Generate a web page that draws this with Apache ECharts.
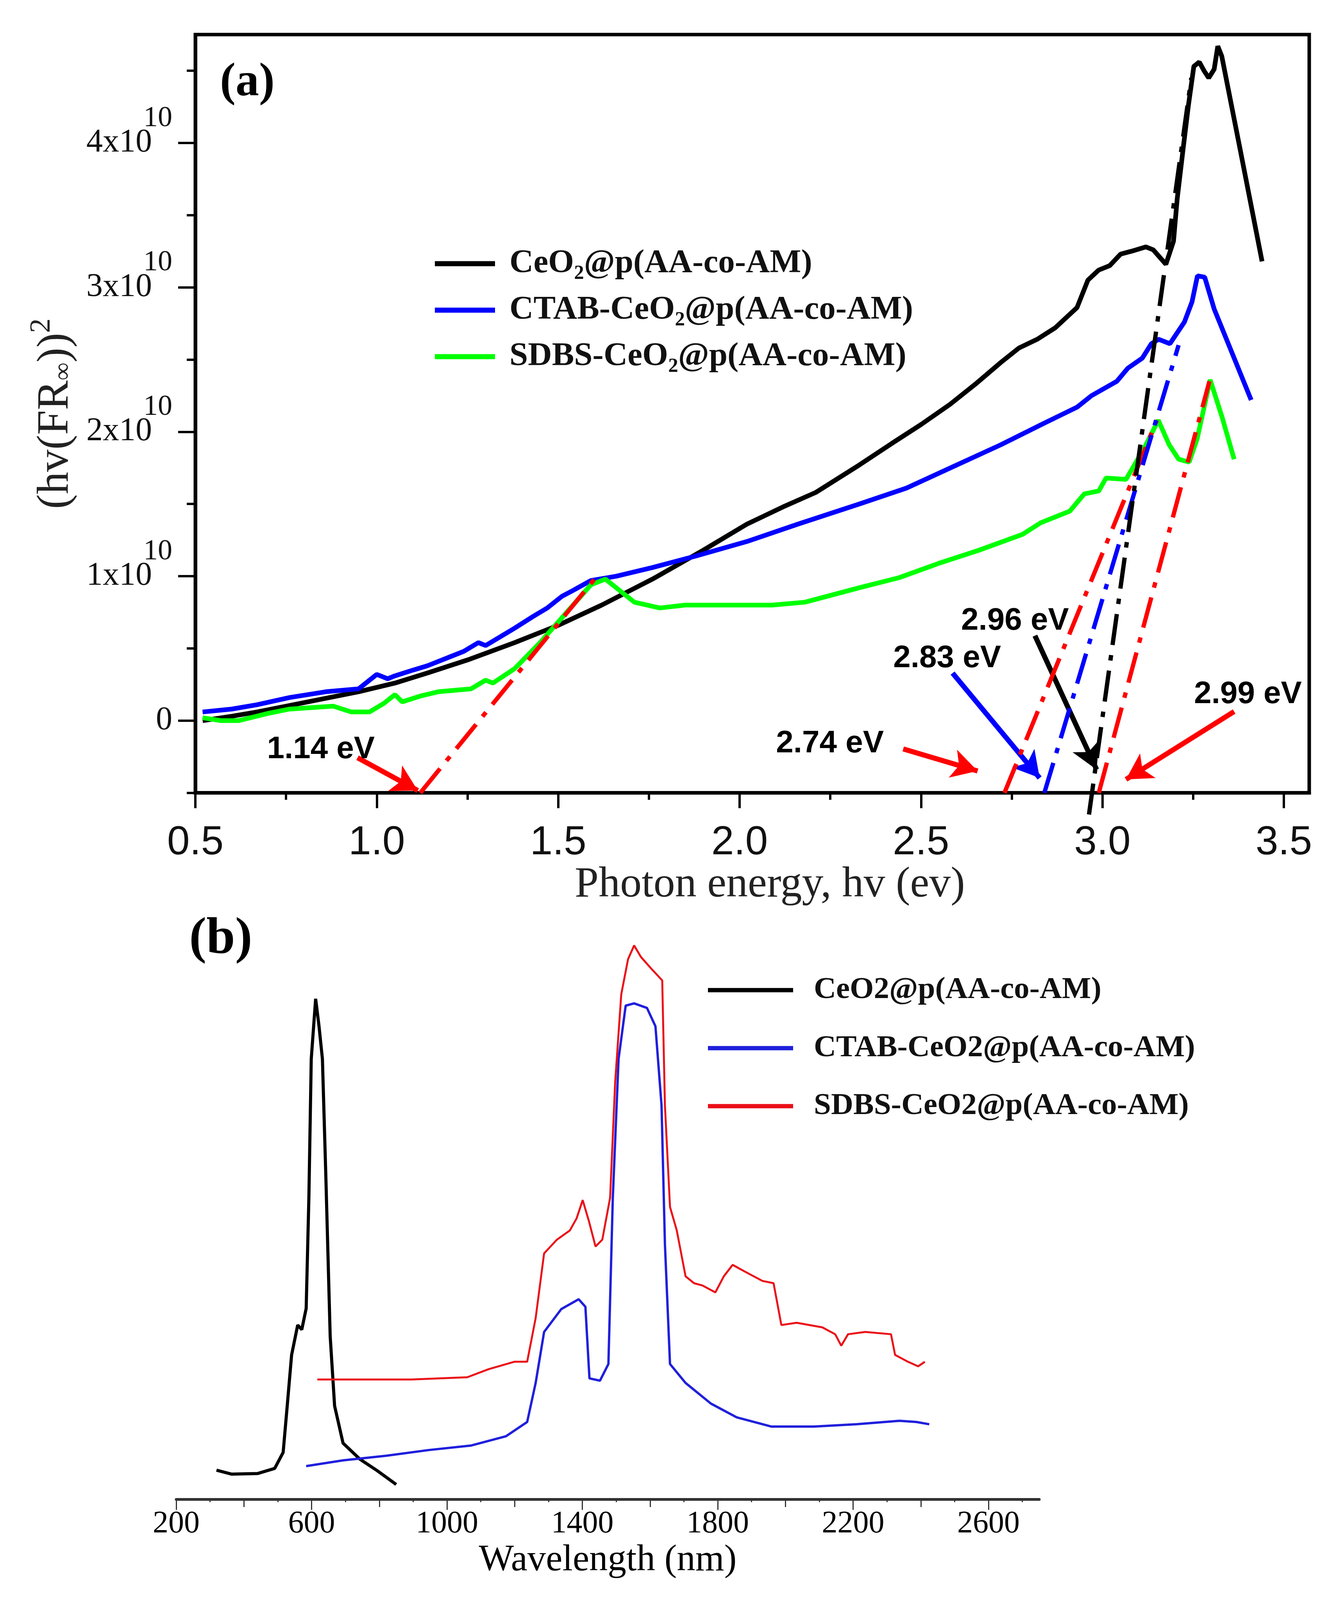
<!DOCTYPE html>
<html>
<head>
<meta charset="utf-8">
<script src="https://cdn.jsdelivr.net/npm/echarts@6/dist/echarts.min.js"></script>
<style>
html, body { margin: 0; padding: 0; background: #fff; overflow: hidden; }
</style>
</head>
<body>
<div id="chart"></div>
<script>
// ---- panel (a): (hv(FR))^2 vs photon energy, y in units of 1e10 ----
const energyCeO2 = [0.52,0.60,0.67,0.75,0.85,0.95,1.05,1.14,1.25,1.38,1.50,1.62,1.76,1.90,2.02,2.12,2.21,2.33,2.42,2.50,2.58,2.65,2.72,2.77,2.82,2.87,2.93,2.96,2.99,3.02,3.05,3.08,3.12,3.14,3.175,3.196,3.206,3.222,3.237,3.252,3.267,3.28,3.293,3.308,3.318,3.329,3.38,3.44];
const tauCeO2 = [0.00,0.03,0.06,0.10,0.15,0.20,0.26,0.33,0.42,0.54,0.66,0.80,0.98,1.18,1.36,1.48,1.58,1.77,1.92,2.05,2.19,2.33,2.48,2.58,2.64,2.72,2.86,3.05,3.12,3.15,3.23,3.25,3.28,3.26,3.16,3.32,3.61,3.95,4.26,4.53,4.56,4.50,4.45,4.51,4.67,4.60,3.95,3.18];

const energyCTAB = [0.52,0.60,0.67,0.76,0.86,0.95,0.98,1.00,1.03,1.05,1.10,1.14,1.20,1.24,1.28,1.30,1.34,1.38,1.43,1.47,1.51,1.54,1.59,1.66,1.76,1.88,2.02,2.16,2.33,2.46,2.59,2.72,2.84,2.93,2.97,3.04,3.07,3.11,3.135,3.155,3.186,3.226,3.247,3.262,3.282,3.308,3.41];
const tauCTAB = [0.06,0.08,0.11,0.16,0.20,0.22,0.28,0.32,0.29,0.31,0.35,0.38,0.44,0.48,0.54,0.52,0.58,0.64,0.72,0.78,0.86,0.90,0.97,1.00,1.06,1.14,1.24,1.36,1.50,1.61,1.76,1.91,2.06,2.17,2.25,2.35,2.44,2.51,2.61,2.64,2.61,2.76,2.90,3.08,3.07,2.85,2.22];

const energySDBS = [0.52,0.57,0.62,0.70,0.76,0.82,0.88,0.93,0.98,1.02,1.05,1.07,1.12,1.17,1.26,1.30,1.32,1.38,1.45,1.52,1.59,1.63,1.66,1.71,1.78,1.85,1.97,2.09,2.18,2.33,2.44,2.55,2.66,2.78,2.83,2.91,2.95,2.99,3.01,3.065,3.116,3.154,3.184,3.21,3.239,3.261,3.297,3.33,3.363];
const tauSDBS = [0.02,0.00,0.00,0.05,0.08,0.09,0.10,0.06,0.06,0.12,0.18,0.13,0.17,0.20,0.22,0.28,0.26,0.36,0.54,0.74,0.94,0.98,0.92,0.82,0.78,0.80,0.80,0.80,0.82,0.92,0.99,1.09,1.18,1.29,1.37,1.45,1.57,1.59,1.68,1.67,1.89,2.08,1.91,1.81,1.79,1.95,2.36,2.10,1.81];

// tangent (extrapolation) lines: [x0, x1], [y0, y1]
const tangentX = [[1.12, 1.60], [2.73, 3.15], [2.84, 3.21], [2.963, 3.245], [2.99, 3.295]];
const tangentY = [[-0.5, 0.98], [-0.5, 2.08], [-0.5, 2.60], [-0.65, 4.45], [-0.5, 2.35]];
const tangentColor = ['#ff0000', '#ff0000', '#0000ff', '#000000', '#ff0000'];

// band-gap annotations
const gapLabels = ['1.14 eV', '2.74 eV', '2.83 eV', '2.96 eV', '2.99 eV'];
const gapLabelAt = [[0.846, -0.20], [2.249, -0.16], [2.572, 0.43], [2.759, 0.69], [3.401, 0.18]];
const arrowFrom = [[0.947, -0.257], [2.451, -0.196], [2.587, 0.329], [2.814, 0.588], [3.363, 0.063]];
const arrowTo = [[1.113, -0.484], [2.656, -0.349], [2.827, -0.397], [2.984, -0.339], [3.065, -0.407]];
const arrowColor = ['#ff0000', '#ff0000', '#0000ff', '#000000', '#ff0000'];

const xTicksA = [0.5, 1.0, 1.5, 2.0, 2.5, 3.0, 3.5];
const xMinorA = [0.75, 1.25, 1.75, 2.25, 2.75, 3.25];
const yTicksA = [0, 1, 2, 3, 4];
const yMinorA = [-0.5, 0.5, 1.5, 2.5, 3.5, 4.5];

// ---- panel (b): spectra vs wavelength (arbitrary units) ----
const nmCeO2 = [319,364,440,491,516,528,541,559,571,584,592,599,612,622,632,642,655,668,693,743,794,850];
const specCeO2 = [5.1,4.4,4.5,5.4,8.2,16.3,25.2,30.4,29.6,33.3,52.6,76.8,87.3,82.5,76.8,56.6,28.4,16.3,9.8,7.0,5.0,2.6];

const nmCTAB = [584,693,820,946,1072,1174,1237,1262,1287,1338,1389,1409,1421,1452,1477,1490,1507,1528,1553,1591,1616,1634,1644,1659,1705,1780,1856,1958,2084,2210,2337,2387,2425];
const specCTAB = [5.8,6.8,7.6,8.6,9.4,11.0,13.5,20.3,29.2,33.2,34.9,33.6,21.1,20.7,23.6,52.6,76.8,86.1,86.5,85.7,82.5,68.7,44.5,23.6,20.3,16.7,14.3,12.7,12.7,13.1,13.7,13.5,13.1];

const nmSDBS = [617,895,1060,1123,1199,1237,1262,1287,1325,1363,1383,1401,1419,1439,1459,1482,1497,1515,1535,1553,1573,1603,1636,1644,1659,1679,1705,1730,1755,1793,1818,1844,1881,1932,1965,1988,2033,2109,2147,2165,2185,2236,2312,2324,2362,2392,2412];
const specSDBS = [20.9,20.9,21.3,22.7,24.0,24.0,31.6,42.9,45.3,46.9,49.0,52.2,48.6,44.1,45.3,52.6,72.8,88.1,94.2,96.6,94.6,92.6,90.5,68.7,51.0,46.9,38.9,37.7,37.3,36.1,38.9,40.9,39.7,38.1,37.7,30.4,30.8,30.0,28.8,26.8,28.8,29.2,28.8,25.2,24.0,23.2,24.0];

const xTicksB = [200, 600, 1000, 1400, 1800, 2200, 2600];
const xMidB = [400, 800, 1200, 1600, 2000, 2400];
const xSmallB = [300, 500, 700, 900, 1100, 1300, 1500, 1700, 1900, 2100, 2300, 2500, 2700];

const namesA = ['CeO\u2082@p(AA-co-AM)', 'CTAB-CeO\u2082@p(AA-co-AM)', 'SDBS-CeO\u2082@p(AA-co-AM)'];
const namesB = ['CeO2@p(AA-co-AM)', 'CTAB-CeO2@p(AA-co-AM)', 'SDBS-CeO2@p(AA-co-AM)'];

const SERIF = '"Liberation Serif", "Times New Roman", serif';
const SANS = '"Liberation Sans", Arial, sans-serif';

// layout is measured on a 3440x4579 page; fit it to the actual viewport
const W = window.innerWidth || 3440;
const H = window.innerHeight || 4579;
const SX = W / 3440, SY = H / 4579;
const X = v => v * SX;
const Y = v => v * SY;

const dom = document.getElementById('chart');
dom.style.width = W + 'px';
dom.style.height = H + 'px';

const zip = (xs, ys) => xs.map((x, i) => [x, ys[i]]);

const myChart = echarts.init(dom);

function curve(name, xs, ys, color, width, axis) {
    return {
        name: name,
        type: 'line',
        xAxisIndex: axis,
        yAxisIndex: axis === 0 ? 0 : 2,
        showSymbol: false,
        symbol: 'none',
        data: zip(xs, ys),
        lineStyle: { color: color, width: width },
        itemStyle: { color: color },
        z: 3
    };
}

const series = [
    curve(namesA[0], energyCeO2, tauCeO2, '#000000', 12, 0),
    curve(namesA[1], energyCTAB, tauCTAB, '#0000ff', 12, 0),
    curve(namesA[2], energySDBS, tauSDBS, '#00ff00', 12, 0)
];

tangentX.forEach((xs, i) => {
    series.push({
        type: 'line',
        name: 'tangent' + i,
        xAxisIndex: 0,
        yAxisIndex: 0,
        symbol: 'none',
        clip: false,
        data: zip(xs, tangentY[i]),
        lineStyle: { color: tangentColor[i], width: 11, type: [80, 26, 14, 26] },
        z: 5
    });
});

series.push({
    type: 'scatter',
    name: 'gaps',
    xAxisIndex: 0,
    yAxisIndex: 0,
    symbolSize: 1,
    itemStyle: { color: 'rgba(0,0,0,0)', opacity: 1 },
    data: gapLabels.map((t, i) => ({ name: t, value: gapLabelAt[i] })),
    label: {
        show: true,
        position: 'inside',
        formatter: p => p.name,
        fontFamily: SANS,
        fontWeight: 'bold',
        fontSize: 80,
        color: '#000',
        opacity: 1
    },
    markLine: {
        silent: true,
        symbol: ['none', 'arrow'],
        symbolSize: [56, 66],
        label: { show: false },
        lineStyle: { width: 13, type: 'solid', opacity: 1 },
        data: arrowFrom.map((a, i) => [
            { coord: a, lineStyle: { color: arrowColor[i] }, itemStyle: { color: arrowColor[i] } },
            { coord: arrowTo[i] }
        ])
    },
    z: 6
});

series.push(curve(namesB[0], nmCeO2, specCeO2, '#000000', 8, 2));
series.push(curve(namesB[1], nmCTAB, specCTAB, '#1f1fdc', 6, 2));
series.push(curve(namesB[2], nmSDBS, specSDBS, '#ea1018', 5, 2));

function minorAxis(grid, pos, min, max, values, len, color, width) {
    return {
        gridIndex: grid, type: 'value', position: pos, min: min, max: max,
        axisLine: { show: false, onZero: false },
        axisTick: { show: true, customValues: values, length: len, lineStyle: { color: color, width: width } },
        axisLabel: { show: false },
        splitLine: { show: false }
    };
}

const option = {
    animation: false,
    backgroundColor: '#fff',
    graphic: [
        { type: 'text', x: X(633), y: Y(238), style: { text: '(a)', font: 'bold 120px ' + SERIF, fill: '#000', align: 'center', verticalAlign: 'middle' } },
        { type: 'text', x: X(565), y: Y(2689), style: { text: '(b)', font: 'bold 132px ' + SERIF, fill: '#000', align: 'center', verticalAlign: 'middle' } }
    ],
    legend: [
        {
            data: namesA,
            orient: 'vertical',
            left: X(1108),
            top: Y(749) - 50,
            icon: 'rect',
            itemWidth: 154,
            itemHeight: 13,
            itemGap: Y(133) - 100,
            selectedMode: false,
            textStyle: { fontFamily: SERIF, fontWeight: 'bold', fontSize: 85, color: '#111', lineHeight: 100, padding: [0, 0, 0, 32] }
        },
        {
            data: namesB,
            orient: 'vertical',
            left: X(1807),
            top: Y(2828) - 50,
            icon: 'rect',
            itemWidth: 218,
            itemHeight: 11,
            itemGap: Y(166) - 100,
            selectedMode: false,
            textStyle: { fontFamily: SERIF, fontWeight: 'bold', fontSize: 79, color: '#111', lineHeight: 100, padding: [0, 0, 0, 48] }
        }
    ],
    grid: [
        { left: X(500), top: Y(99), width: X(2851), height: Y(2170), show: true, borderColor: '#000', borderWidth: 9, backgroundColor: 'transparent' },
        { left: X(451), top: Y(2650), width: X(2209), height: Y(1641) }
    ],
    xAxis: [
        {
            gridIndex: 0, type: 'value', position: 'bottom', min: 0.5, max: 3.57,
            axisLine: { show: true, onZero: false, lineStyle: { color: '#000', width: 9 } },
            axisTick: { show: true, customValues: xTicksA, length: Y(44), lineStyle: { color: '#000', width: 6 } },
            axisLabel: { customValues: xTicksA, formatter: v => v.toFixed(1), fontFamily: SANS, fontSize: 104, color: '#111', margin: Y(86) },
            splitLine: { show: false },
            name: 'Photon energy, hv (ev)',
            nameLocation: 'middle',
            nameGap: Y(182),
            nameTextStyle: { fontFamily: SERIF, fontSize: 110, color: '#222', padding: [0, 0, 0, 90] }
        },
        minorAxis(0, 'bottom', 0.5, 3.57, xMinorA, Y(20), '#000', 6),
        {
            gridIndex: 1, type: 'value', position: 'bottom', min: 200, max: 2750,
            axisLine: { show: true, onZero: false, lineStyle: { color: '#333', width: 7 } },
            axisTick: { show: true, customValues: xTicksB, length: Y(30), lineStyle: { color: '#333', width: 3 } },
            axisLabel: { customValues: xTicksB, formatter: v => String(v), fontFamily: SERIF, fontSize: 80, color: '#000', margin: Y(26) },
            splitLine: { show: false },
            name: 'Wavelength (nm)',
            nameLocation: 'middle',
            nameGap: Y(122),
            nameTextStyle: { fontFamily: SERIF, fontSize: 95, color: '#000' }
        },
        minorAxis(1, 'bottom', 200, 2750, xMidB, Y(22), '#333', 3),
        minorAxis(1, 'bottom', 200, 2750, xSmallB, Y(8), '#333', 3)
    ],
    yAxis: [
        {
            gridIndex: 0, type: 'value', position: 'left', min: -0.5, max: 4.75,
            axisLine: { show: true, onZero: false, lineStyle: { color: '#000', width: 9 } },
            axisTick: { show: true, customValues: yTicksA, length: X(44), lineStyle: { color: '#000', width: 6 } },
            axisLabel: {
                customValues: yTicksA,
                margin: X(59),
                color: '#111',
                formatter: v => v === 0 ? '{z|0}' : '{m|' + v + 'x10}{s|10}',
                rich: {
                    z: { fontFamily: SERIF, fontSize: 84 },
                    m: { fontFamily: SERIF, fontSize: 84 },
                    s: { fontFamily: SERIF, fontSize: 74, padding: [0, 0, Y(140), -22] }
                }
            },
            splitLine: { show: false },
            name: '{a|(hv(FR}{b|\u221e}{a|))}{c|2}',
            nameLocation: 'middle',
            nameRotate: 90,
            nameGap: X(285),
            nameTextStyle: {
                color: '#222',
                rich: {
                    a: { fontFamily: SERIF, fontSize: 114 },
                    b: { fontFamily: SERIF, fontSize: 64, padding: [40, 0, 0, 0] },
                    c: { fontFamily: SERIF, fontSize: 74, padding: [0, 0, 70, 0] }
                }
            }
        },
        minorAxis(0, 'left', -0.5, 4.75, yMinorA, X(22), '#000', 6),
        { gridIndex: 1, type: 'value', min: 0, max: 100, show: false }
    ],
    series: series
};

option && myChart.setOption(option);
</script>
</body>
</html>
